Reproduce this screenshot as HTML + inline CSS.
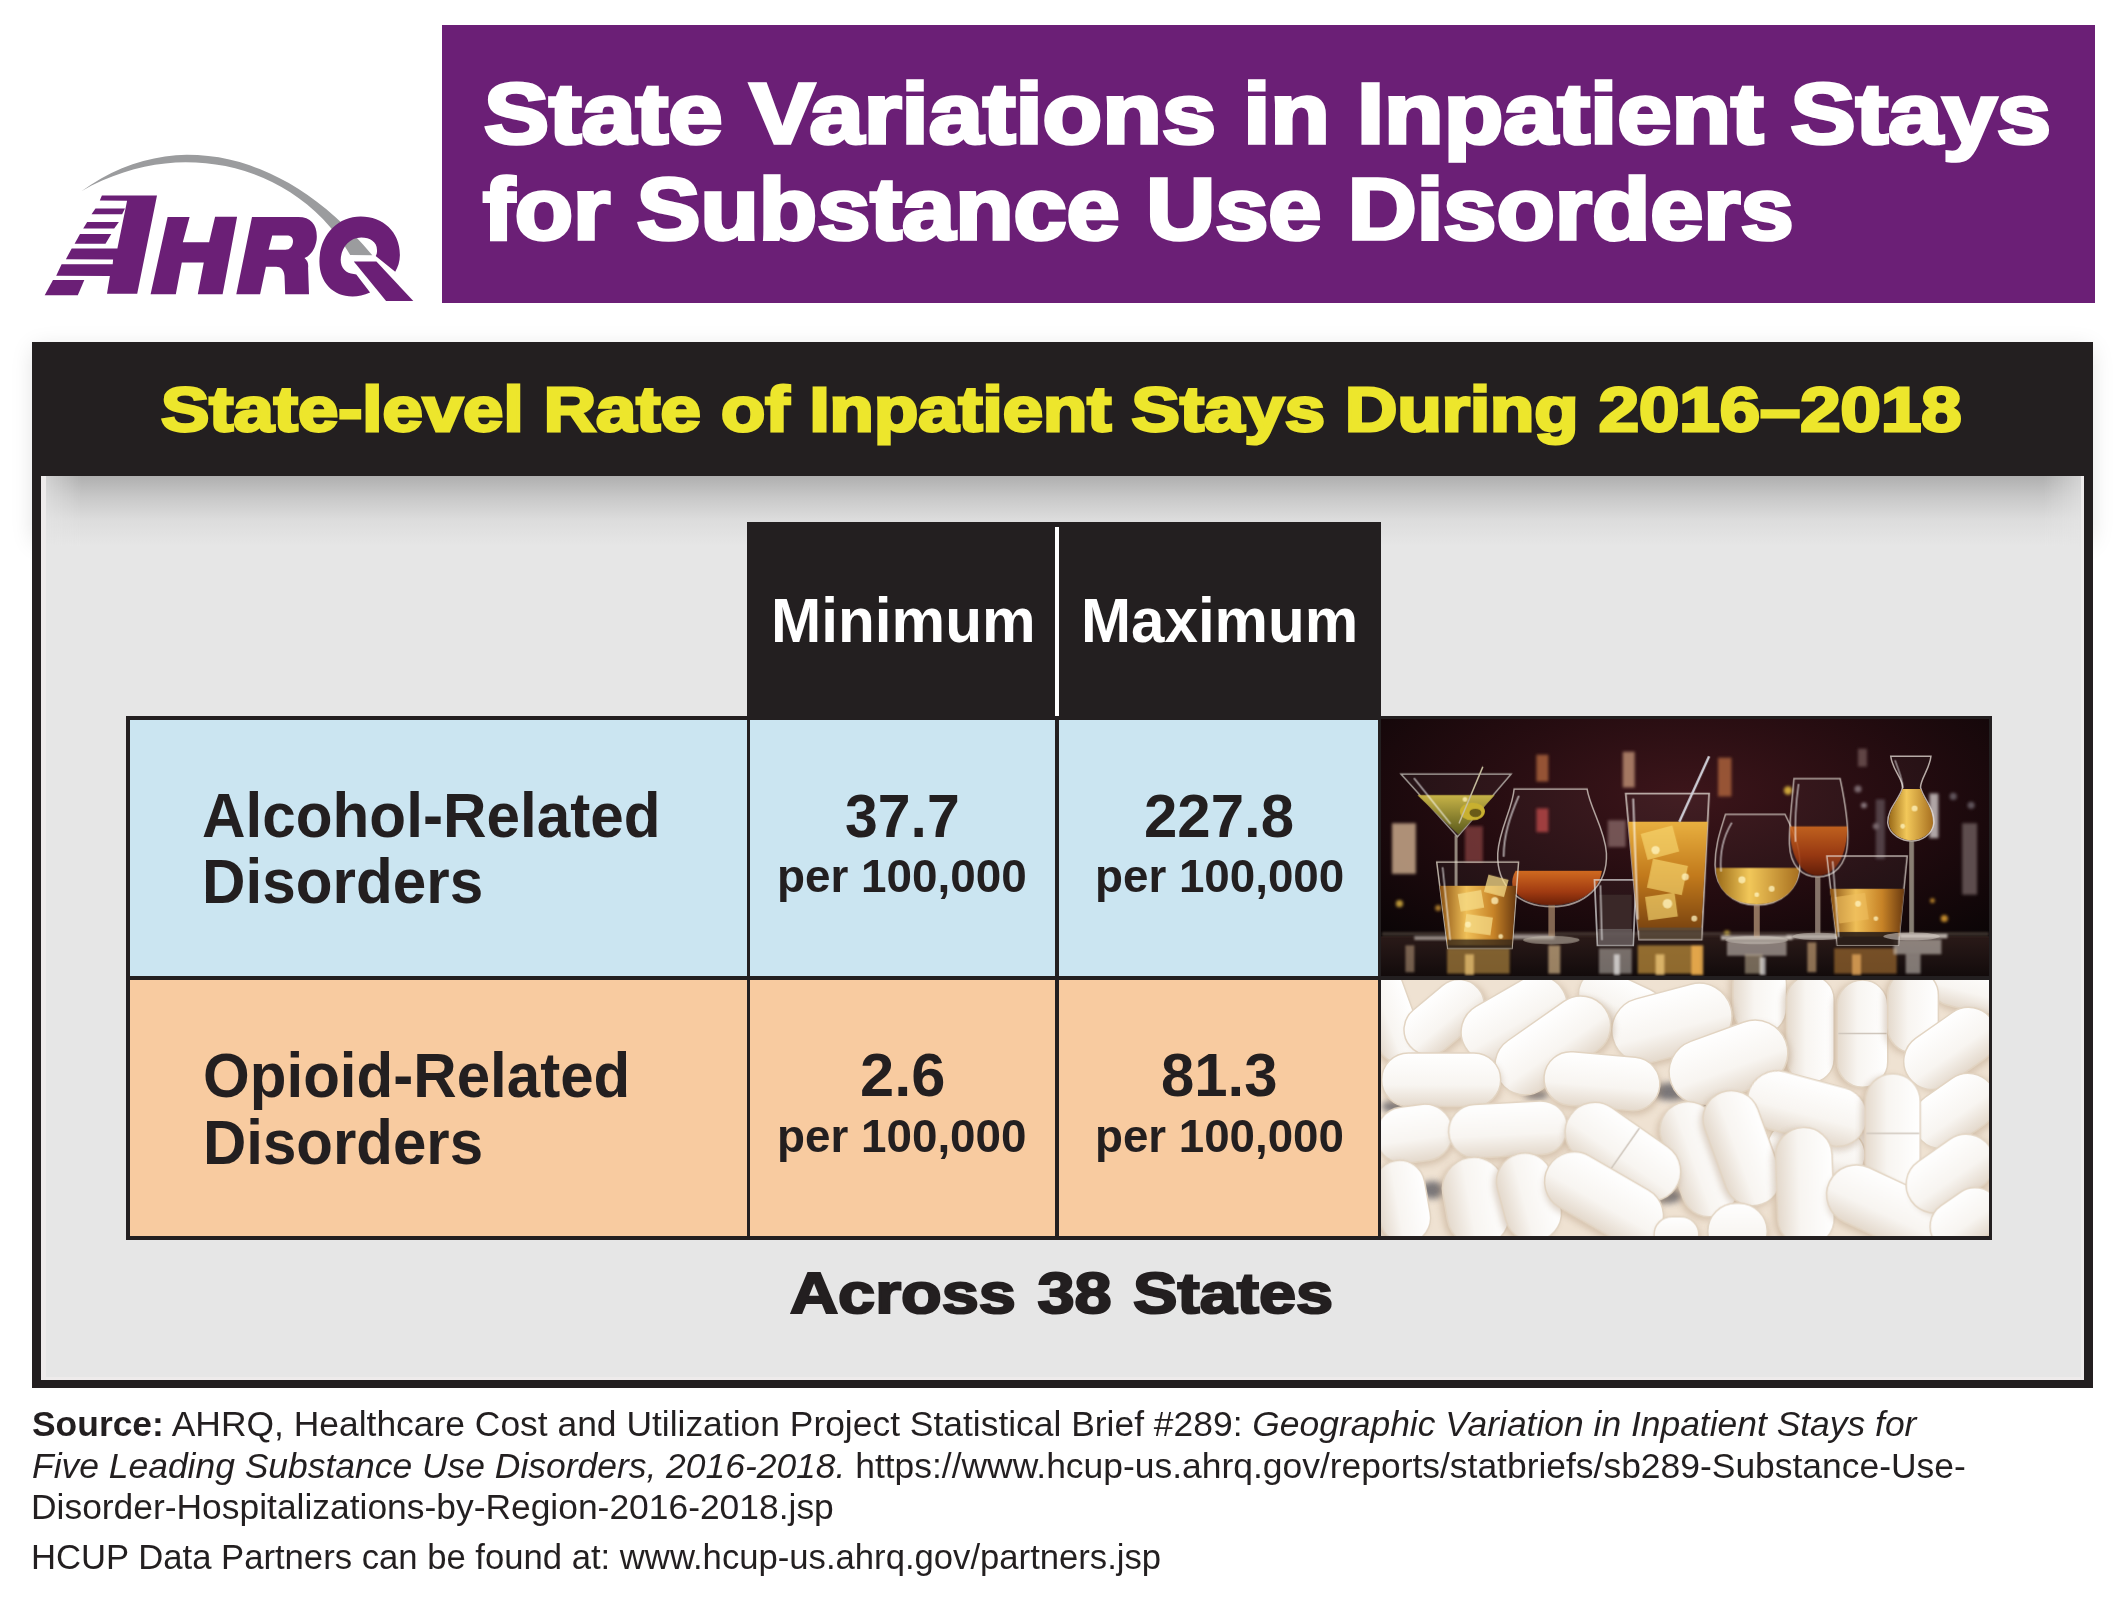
<!DOCTYPE html>
<html><head><meta charset="utf-8"><title>State Variations in Inpatient Stays for Substance Use Disorders</title>
<style>
html,body{margin:0;padding:0;}
body{width:2116px;height:1597px;overflow:hidden;background:#fff;position:relative;font-family:"Liberation Sans",sans-serif;}
div{box-sizing:border-box;}
</style></head><body>
<svg style="position:absolute;left:0;top:0" width="440" height="320" viewBox="0 0 440 320">
<path fill="#9b9c9e" d="M81.0,191.5 L90.9,184.7 L101.1,178.5 L111.4,173.1 L121.9,168.3 L132.6,164.3 L143.3,161.0 L154.1,158.4 L165.0,156.5 L175.9,155.3 L186.8,154.8 L197.6,155.0 L208.2,155.9 L218.8,157.3 L229.3,159.4 L239.6,162.1 L249.7,165.3 L259.7,169.0 L269.5,173.2 L279.2,177.9 L288.8,183.1 L298.2,188.8 L307.6,195.1 L316.8,201.8 L326.1,209.0 L335.3,216.9 L344.5,225.4 L353.7,234.5 L363.0,244.4 L372.3,255.2 L350.2,255.0 L344.0,245.1 L337.4,235.9 L330.3,227.2 L322.9,219.1 L315.1,211.5 L307.1,204.6 L298.8,198.2 L290.2,192.3 L281.4,187.0 L272.5,182.2 L263.4,178.0 L254.1,174.2 L244.7,171.0 L235.1,168.3 L225.4,166.1 L215.6,164.4 L205.8,163.2 L195.8,162.5 L185.7,162.3 L175.5,162.6 L165.3,163.5 L154.9,164.8 L144.5,166.8 L134.0,169.3 L123.5,172.4 L112.9,176.2 L102.2,180.5 L91.6,185.6 L80.9,191.4 Z"/>
<g fill="#6b1f76">
<path d="M101.9,195.4 L157,195.4 L137.2,293.7 L107,293.7 L109.9,276.1 L56.2,275.7 L61.6,264.2 L112.7,264.2 L113.1,259.5 L65.9,259.2 L71.7,248.4 L117.4,248.4 L127.1,200.8 L99.8,200.5 Z"/>
<path d="M95.5,208.4 L125,208.4 L122.1,214.3 L91.5,214.3 Z"/>
<path d="M87.2,222.1 L118.9,222.1 L114.2,228.6 L83.2,228.6 Z"/>
<path d="M80,234 L111.3,234 L105.5,243.7 L74.6,243.7 Z"/>
<path d="M53,280.1 L84.3,280.1 L77.8,295.2 L44.7,295.2 Z"/>
<path d="M167.6,217 L189.6,217 L182.8,242.2 L209.1,242.2 L215.1,216.7 L237.1,216.7 L222.6,294.3 L197.8,294.3 L203.8,262.4 L181.8,262.4 L175.8,294.3 L150.6,294.3 Z"/>
<path d="M252,217 L298.2,217 C312,217 318,226 316.6,240 C315,250 310,256 304.5,257.9 C308,261 308.5,264 308.1,268 L309,294.2 L285.2,294.2 L284.5,276 C284,270 281,266.8 276.2,266.8 L265.9,266.8 L260.1,294.2 L236.3,294.2 Z M272.2,235.4 L268.6,249.8 L285.2,249.8 C290,249.8 293,246 293,241 C293,237 290,235.4 287,235.4 Z" fill-rule="evenodd"/>
<path d="M360.7,216.6 C383,216.6 400,232 399.9,255.1 C399.8,262 398,267 395.2,271.7 L375.7,256 C377,254 377,252.6 377,250 C377,242 370,237.6 361.3,237.6 C348,237.6 340.7,250 340.7,260.1 C340.7,268 346,273.9 353.8,273.9 L356.3,274.5 L370.1,292.4 C364,295 358,296.4 352.6,296.4 C333,296.4 319.4,282 319.4,261.4 C319.4,236 337,216.6 360.7,216.6 Z"/>
<path d="M353.8,261.4 L376.4,261.4 L413.3,301.1 L386.1,301.1 Z"/>
</g>
</svg>

<div style="position:absolute;left:442px;top:25px;width:1653px;height:278px;background:#6b1f76"></div>
<!-- main box -->
<div style="position:absolute;left:36px;top:350px;width:2053px;height:190px;box-shadow:0 0 22px 2px rgba(0,0,0,0.13)"></div>
<div style="position:absolute;left:32px;top:342px;width:2061px;height:1046px;background:#231f20"></div>
<div style="position:absolute;left:41px;top:476px;width:2043px;height:904px;background:#e6e6e6;overflow:hidden;border-left:5px solid #eeebeb;border-right:3px solid #eeebeb;border-bottom:3px solid #eeebeb">
  <div style="position:absolute;left:-5px;top:0;width:2043px;height:70px;background:linear-gradient(to bottom,#afafaf 0%,#c8c8c8 30%,#dcdcdc 62%,#e6e6e6 100%);-webkit-mask-image:linear-gradient(to right,rgba(0,0,0,0.3) 0,#000 40px,#000 2003px,rgba(0,0,0,0.3) 2043px)"></div>
</div>
<!-- table header cells -->
<div style="position:absolute;left:747px;top:522px;width:634px;height:198px;background:#231f20"></div>
<div style="position:absolute;left:1055px;top:527px;width:4px;height:189px;background:#fff"></div>
<!-- table body -->
<div style="position:absolute;left:126px;top:716px;width:1866px;height:524px;background:#231f20"></div>
<div style="position:absolute;left:130px;top:720px;width:617px;height:256px;background:#cbe5f1"></div>
<div style="position:absolute;left:750px;top:720px;width:305px;height:256px;background:#cbe5f1"></div>
<div style="position:absolute;left:1059px;top:720px;width:319px;height:256px;background:#cbe5f1"></div>
<div style="position:absolute;left:130px;top:980px;width:617px;height:256px;background:#f8cba0"></div>
<div style="position:absolute;left:750px;top:980px;width:305px;height:256px;background:#f8cba0"></div>
<div style="position:absolute;left:1059px;top:980px;width:319px;height:256px;background:#f8cba0"></div>
<div style="position:absolute;left:1381px;top:719px;width:608px;height:257px;overflow:hidden"><svg width="608" height="257" viewBox="38 30 2042 863" preserveAspectRatio="none">
<defs>
<radialGradient id="abg" cx="0.5" cy="0.3" r="0.7">
<stop offset="0" stop-color="#3c151a"/><stop offset="0.55" stop-color="#220b0f"/><stop offset="1" stop-color="#0a0506"/>
</radialGradient>
<linearGradient id="bar" x1="0" y1="0" x2="0" y2="1">
<stop offset="0" stop-color="#2a1a18"/><stop offset="0.5" stop-color="#1a1010"/><stop offset="1" stop-color="#0a0606"/>
</linearGradient>
<linearGradient id="amb" x1="0" y1="0" x2="0" y2="1">
<stop offset="0" stop-color="#e9b040"/><stop offset="0.5" stop-color="#c27a1c"/><stop offset="1" stop-color="#7a4410"/>
</linearGradient>
<linearGradient id="amb2" x1="0" y1="0" x2="1" y2="0">
<stop offset="0" stop-color="#8a5214"/><stop offset="0.35" stop-color="#f0c058"/><stop offset="0.7" stop-color="#c88428"/><stop offset="1" stop-color="#6a3a10"/>
</linearGradient>
<linearGradient id="red" x1="0" y1="0" x2="0" y2="1">
<stop offset="0" stop-color="#d06a20"/><stop offset="0.6" stop-color="#a23c12"/><stop offset="1" stop-color="#6a2008"/>
</linearGradient>
<linearGradient id="grn" x1="0" y1="0" x2="0" y2="1">
<stop offset="0" stop-color="#c8b448"/><stop offset="1" stop-color="#5a5a1c"/>
</linearGradient>
<linearGradient id="gold" x1="0" y1="0" x2="1" y2="0">
<stop offset="0" stop-color="#9a6a18"/><stop offset="0.4" stop-color="#f2c85a"/><stop offset="1" stop-color="#a87020"/>
</linearGradient>
<linearGradient id="glassv" x1="0" y1="0" x2="1" y2="0">
<stop offset="0" stop-color="#ffffff" stop-opacity="0.35"/><stop offset="0.15" stop-color="#ffffff" stop-opacity="0.05"/><stop offset="0.85" stop-color="#ffffff" stop-opacity="0.05"/><stop offset="1" stop-color="#ffffff" stop-opacity="0.35"/>
</linearGradient>
<filter id="blur6"><feGaussianBlur stdDeviation="6"/></filter>
<filter id="blur3"><feGaussianBlur stdDeviation="3"/></filter>
</defs>
<rect x="0" y="0" width="2116" height="940" fill="url(#abg)"/>
<!-- bokeh / bottles -->
<g filter="url(#blur6)" opacity="0.85">
<rect x="75" y="380" width="80" height="170" fill="#c8a88a"/>
<rect x="560" y="150" width="40" height="90" fill="#a8603a"/>
<rect x="850" y="140" width="40" height="120" fill="#b88a70"/>
<rect x="1170" y="160" width="45" height="130" fill="#a8603a"/>
<rect x="800" y="370" width="60" height="90" fill="#806060"/>
<rect x="320" y="390" width="60" height="120" fill="#7a3a3a"/>
<rect x="560" y="330" width="40" height="80" fill="#b04040"/>
<rect x="1640" y="130" width="30" height="60" fill="#6a5050"/>
<rect x="1700" y="300" width="30" height="200" fill="#5a4a50"/>
<rect x="1880" y="280" width="30" height="150" fill="#c8c0c0"/>
<rect x="1990" y="380" width="50" height="240" fill="#6a5a5a"/>
<circle cx="1405" cy="270" r="14" fill="#e8c040"/>
<circle cx="1640" cy="265" r="12" fill="#8a7a80"/>
<circle cx="1660" cy="320" r="10" fill="#9a8a90"/>
<circle cx="1700" cy="390" r="10" fill="#8a7a80"/>
<circle cx="1960" cy="290" r="12" fill="#6a6068"/>
<circle cx="2020" cy="320" r="12" fill="#6a6068"/>
<circle cx="100" cy="650" r="12" fill="#d8b040"/>
<circle cx="230" cy="665" r="10" fill="#c89030"/>
<circle cx="1930" cy="700" r="12" fill="#e0a030"/>
<circle cx="1890" cy="640" r="8" fill="#e0a030"/>
<circle cx="1200" cy="750" r="10" fill="#e0c040"/>
</g>
<!-- bar surface -->
<rect x="0" y="760" width="2116" height="180" fill="url(#bar)"/>
<g filter="url(#blur3)">
<rect x="260" y="800" width="210" height="85" fill="#a07a38" opacity="0.75"/>
<rect x="900" y="790" width="210" height="95" fill="#b88a38" opacity="0.75"/>
<rect x="770" y="800" width="110" height="85" fill="#c0b8b0" opacity="0.55"/>
<rect x="1560" y="800" width="210" height="85" fill="#9a6a30" opacity="0.7"/>
<rect x="1200" y="775" width="200" height="50" fill="#d8d0c8" opacity="0.55"/>
<rect x="1260" y="820" width="60" height="65" fill="#d0c0a0" opacity="0.5"/>
<rect x="1760" y="770" width="160" height="50" fill="#e0d8d0" opacity="0.55"/>
<rect x="1080" y="790" width="40" height="100" fill="#f0b050" opacity="0.85"/>
<rect x="600" y="790" width="40" height="95" fill="#e0c090" opacity="0.65"/>
<rect x="1470" y="780" width="30" height="100" fill="#d8b080" opacity="0.6"/>
<rect x="1800" y="820" width="50" height="65" fill="#c8c0b8" opacity="0.6"/>
<rect x="120" y="790" width="30" height="90" fill="#c0a080" opacity="0.55"/>
</g>
<g filter="url(#blur3)">
<rect x="40" y="745" width="2040" height="14" fill="#6a5a50" opacity="0.5"/>
<rect x="150" y="760" width="120" height="12" fill="#e0d8d0" opacity="0.6"/>
<rect x="480" y="755" width="140" height="14" fill="#e8e0d8" opacity="0.6"/>
<rect x="1180" y="758" width="240" height="14" fill="#f0e8e0" opacity="0.7"/>
<rect x="1400" y="755" width="180" height="12" fill="#e8e0d8" opacity="0.6"/>
<rect x="1780" y="752" width="160" height="14" fill="#f0e8e0" opacity="0.7"/>
<rect x="320" y="820" width="30" height="70" fill="#f0c878" opacity="0.7"/>
<rect x="960" y="820" width="30" height="70" fill="#f8d080" opacity="0.7"/>
<rect x="1620" y="820" width="30" height="70" fill="#f0b060" opacity="0.7"/>
<rect x="1310" y="830" width="20" height="60" fill="#ffffff" opacity="0.6"/>
<rect x="820" y="820" width="20" height="70" fill="#ffffff" opacity="0.6"/>
</g>
<!-- martini -->
<path d="M105,215 L475,215 L295,425 Z" fill="#ffffff" fill-opacity="0.04" stroke="#d8d8d0" stroke-width="5" stroke-opacity="0.7"/>
<path d="M160,285 L420,285 L298,418 Z" fill="url(#grn)"/>
<ellipse cx="345" cy="340" rx="42" ry="30" fill="#c8b030"/>
<ellipse cx="355" cy="345" rx="20" ry="14" fill="#6a5a18"/>
<line x1="290" y1="420" x2="290" y2="770" stroke="#b8b0a0" stroke-width="10" stroke-opacity="0.75"/>
<line x1="380" y1="190" x2="300" y2="380" stroke="#c8c0a0" stroke-width="5"/>
<!-- snifter -->
<path d="M485,265 L730,265 C740,330 790,400 795,480 C800,590 720,660 610,660 C500,660 425,590 430,480 C435,400 480,330 485,265 Z" fill="#ffffff" fill-opacity="0.03" stroke="#e0d8d0" stroke-width="5" stroke-opacity="0.75"/>
<path d="M490,540 L780,540 C770,610 700,655 610,655 C520,655 450,610 490,540 Z" fill="url(#red)"/>
<rect x="600" y="655" width="22" height="105" fill="#b09070" opacity="0.7"/>
<ellipse cx="610" cy="772" rx="95" ry="14" fill="#c8c0b0" opacity="0.55"/>
<!-- rocks left -->
<path d="M225,510 L500,510 L478,800 L262,800 Z" fill="#ffffff" fill-opacity="0.04" stroke="#e8e0d0" stroke-width="5" stroke-opacity="0.75"/>
<path d="M235,590 L492,590 L478,790 L262,790 Z" fill="url(#amb2)"/>
<g fill="#f6dc88" opacity="0.75"><rect x="300" y="610" width="80" height="60" transform="rotate(-10 340 640)"/><rect x="390" y="560" width="70" height="60" transform="rotate(15 425 590)"/><rect x="320" y="690" width="90" height="60" transform="rotate(8 365 720)"/></g>
<rect x="262" y="770" width="216" height="30" fill="#3a2a1a" opacity="0.8"/>
<!-- shot -->
<path d="M755,570 L895,570 L885,790 L765,790 Z" fill="#ffffff" fill-opacity="0.04" stroke="#e0e0e0" stroke-width="6" stroke-opacity="0.7"/>
<rect x="770" y="620" width="110" height="120" fill="#3a2828"/>
<rect x="768" y="735" width="114" height="55" fill="#6a6060" opacity="0.8"/>
<!-- highball -->
<path d="M860,280 L1140,280 L1115,770 L905,770 Z" fill="#ffffff" fill-opacity="0.04" stroke="#e8e0d8" stroke-width="6" stroke-opacity="0.75"/>
<path d="M868,375 L1135,375 L1113,740 L903,740 Z" fill="url(#amb)"/>
<g fill="#f8d870" opacity="0.65"><rect x="920" y="400" width="110" height="90" transform="rotate(-15 975 445)"/><rect x="940" y="510" width="120" height="100" transform="rotate(12 1000 560)"/><rect x="930" y="620" width="100" height="80" transform="rotate(-8 980 660)"/></g>
<line x1="1140" y1="155" x2="1040" y2="375" stroke="#d0d0d8" stroke-width="8"/>
<rect x="905" y="730" width="210" height="40" fill="#5a4a3a" opacity="0.8"/>
<!-- balloon -->
<path d="M1195,350 L1395,350 C1420,400 1445,450 1445,520 C1445,600 1380,655 1300,655 C1220,655 1160,600 1160,520 C1160,450 1180,400 1195,350 Z" fill="#ffffff" fill-opacity="0.03" stroke="#e0d8d0" stroke-width="5" stroke-opacity="0.75"/>
<path d="M1163,530 L1442,530 C1440,610 1380,652 1300,652 C1220,652 1165,610 1163,530 Z" fill="url(#gold)"/>
<rect x="1290" y="655" width="20" height="110" fill="#c0a080" opacity="0.7"/>
<ellipse cx="1300" cy="772" rx="105" ry="14" fill="#d0c8c0" opacity="0.55"/>
<!-- tulip wine -->
<path d="M1425,230 L1580,230 C1595,300 1610,380 1605,450 C1600,520 1560,560 1505,560 C1450,560 1412,520 1410,450 C1408,380 1420,300 1425,230 Z" fill="#ffffff" fill-opacity="0.03" stroke="#e0d8d0" stroke-width="5" stroke-opacity="0.75"/>
<path d="M1412,390 L1604,390 C1605,480 1570,555 1505,555 C1445,555 1410,480 1412,390 Z" fill="url(#red)" opacity="0.9"/>
<rect x="1496" y="560" width="18" height="190" fill="#b0a090" opacity="0.7"/>
<ellipse cx="1505" cy="760" rx="85" ry="12" fill="#d0c8c0" opacity="0.55"/>
<!-- rocks right -->
<path d="M1535,490 L1805,490 L1775,790 L1570,790 Z" fill="#ffffff" fill-opacity="0.04" stroke="#e8e0d8" stroke-width="5" stroke-opacity="0.75"/>
<path d="M1545,600 L1795,600 L1778,760 L1568,760 Z" fill="url(#amb2)"/>
<g fill="#f0c060" opacity="0.6"><rect x="1570" y="620" width="100" height="90" transform="rotate(-8 1620 665)"/></g>
<rect x="1570" y="745" width="205" height="45" fill="#2a1e18" opacity="0.9"/>
<!-- cordial -->
<path d="M1750,155 L1885,155 C1880,200 1850,230 1850,260 C1860,300 1898,330 1895,380 C1890,420 1850,440 1820,440 C1790,440 1745,420 1740,380 C1738,330 1780,300 1790,260 C1790,230 1755,200 1750,155 Z" fill="#ffffff" fill-opacity="0.03" stroke="#e8e0d8" stroke-width="5" stroke-opacity="0.75"/>
<path d="M1790,265 L1850,265 C1860,300 1893,330 1892,380 C1888,418 1850,437 1820,437 C1790,437 1748,418 1744,380 C1742,330 1780,300 1790,265 Z" fill="url(#gold)"/>
<rect x="1812" y="440" width="16" height="310" fill="#b8b0a0" opacity="0.7"/>
<ellipse cx="1820" cy="760" rx="95" ry="13" fill="#d8d0c8" opacity="0.55"/>
<g stroke="#ffffff" stroke-linecap="round" fill="none" opacity="0.55">
<path d="M150,230 L270,380" stroke-width="6"/>
<path d="M500,290 C470,360 450,420 450,490" stroke-width="7"/>
<path d="M245,530 L270,770" stroke-width="6"/>
<path d="M885,300 L900,700" stroke-width="8"/>
<path d="M1215,380 C1185,430 1175,480 1180,540" stroke-width="6"/>
<path d="M1440,250 C1430,320 1428,380 1430,440" stroke-width="6"/>
<path d="M1555,510 L1575,760" stroke-width="6"/>
<path d="M1765,170 C1775,200 1790,230 1790,260" stroke-width="5"/>
<path d="M775,590 L780,770" stroke-width="6"/>
</g>
<g fill="#fff4c0" opacity="0.75">
<circle cx="960" cy="470" r="14"/><circle cx="1060" cy="560" r="12"/><circle cx="1000" cy="650" r="16"/><circle cx="1090" cy="700" r="10"/>
<circle cx="420" cy="640" r="12"/><circle cx="330" cy="720" r="10"/><circle cx="440" cy="760" r="8"/>
<circle cx="1250" cy="570" r="12"/><circle cx="1350" cy="600" r="10"/><circle cx="1300" cy="620" r="8"/>
<circle cx="1640" cy="650" r="10"/><circle cx="1700" cy="700" r="8"/>
<circle cx="1830" cy="330" r="10"/><circle cx="1790" cy="390" r="8"/>
<circle cx="320" cy="300" r="8"/>
</g>
</svg></div>
<div style="position:absolute;left:1381px;top:980px;width:608px;height:256px;overflow:hidden"><svg width="608" height="256" viewBox="38 35 2042 860" preserveAspectRatio="none">
<defs>
<linearGradient id="pg" x1="0" y1="0" x2="0" y2="1"><stop offset="0" stop-color="#ffffff"/><stop offset="0.6" stop-color="#f8f5f1"/><stop offset="1" stop-color="#e4d9cc"/></linearGradient>
<filter id="psh" x="-20%" y="-20%" width="140%" height="140%"><feGaussianBlur stdDeviation="10"/></filter>
</defs>
<rect x="0" y="0" width="2116" height="940" fill="#efe2d2"/>
<g fill="#4a4a52" filter="url(#psh)" opacity="0.7"><ellipse cx="1010" cy="410" rx="60" ry="30"/><ellipse cx="1110" cy="460" rx="40" ry="25"/><ellipse cx="210" cy="740" rx="40" ry="30"/><ellipse cx="90" cy="460" rx="50" ry="20"/><ellipse cx="1600" cy="700" rx="50" ry="20"/><ellipse cx="560" cy="420" rx="40" ry="15"/><ellipse cx="1000" cy="760" rx="50" ry="25"/></g>
<g transform="translate(70,150) rotate(70)"><rect x="-164.0" y="-61.0" width="340" height="150" rx="75.0" fill="#b09478" opacity="0.4" filter="url(#psh)"/><rect x="-170.0" y="-75.0" width="340" height="150" rx="75.0" fill="url(#pg)" stroke="#e2d4c2" stroke-width="5"/></g>
<g transform="translate(2010,60) rotate(15)"><rect x="-124.0" y="-61.0" width="260" height="150" rx="75.0" fill="#b09478" opacity="0.4" filter="url(#psh)"/><rect x="-130.0" y="-75.0" width="260" height="150" rx="75.0" fill="url(#pg)" stroke="#e2d4c2" stroke-width="5"/></g>
<g transform="translate(1620,560) rotate(5)"><rect x="-144.0" y="-71.0" width="300" height="170" rx="85.0" fill="#b09478" opacity="0.4" filter="url(#psh)"/><rect x="-150.0" y="-85.0" width="300" height="170" rx="85.0" fill="url(#pg)" stroke="#e2d4c2" stroke-width="5"/></g>
<g transform="translate(1500,610) rotate(10)"><rect x="-159.0" y="-76.0" width="330" height="180" rx="90.0" fill="#b09478" opacity="0.4" filter="url(#psh)"/><rect x="-165.0" y="-90.0" width="330" height="180" rx="90.0" fill="url(#pg)" stroke="#e2d4c2" stroke-width="5"/><line x1="0" y1="-86.0" x2="0" y2="86.0" stroke="#cfc6bc" stroke-width="5"/></g>
<g transform="translate(1310,90) rotate(90)"><rect x="-124.0" y="-76.0" width="260" height="180" rx="90.0" fill="#b09478" opacity="0.4" filter="url(#psh)"/><rect x="-130.0" y="-90.0" width="260" height="180" rx="90.0" fill="url(#pg)" stroke="#e2d4c2" stroke-width="5"/></g>
<g transform="translate(845,110) rotate(25)"><rect x="-144.0" y="-66.0" width="300" height="160" rx="80.0" fill="#b09478" opacity="0.4" filter="url(#psh)"/><rect x="-150.0" y="-80.0" width="300" height="160" rx="80.0" fill="url(#pg)" stroke="#e2d4c2" stroke-width="5"/></g>
<g transform="translate(250,160) rotate(-40)"><rect x="-144.0" y="-71.0" width="300" height="170" rx="85.0" fill="#b09478" opacity="0.4" filter="url(#psh)"/><rect x="-150.0" y="-85.0" width="300" height="170" rx="85.0" fill="url(#pg)" stroke="#e2d4c2" stroke-width="5"/></g>
<g transform="translate(1015,180) rotate(-15)"><rect x="-199.0" y="-96.0" width="410" height="220" rx="110.0" fill="#b09478" opacity="0.4" filter="url(#psh)"/><rect x="-205.0" y="-110.0" width="410" height="220" rx="110.0" fill="url(#pg)" stroke="#e2d4c2" stroke-width="5"/></g>
<g transform="translate(485,165) rotate(-30)"><rect x="-184.0" y="-86.0" width="380" height="200" rx="100.0" fill="#b09478" opacity="0.4" filter="url(#psh)"/><rect x="-190.0" y="-100.0" width="380" height="200" rx="100.0" fill="url(#pg)" stroke="#e2d4c2" stroke-width="5"/></g>
<g transform="translate(615,255) rotate(-35)"><rect x="-209.0" y="-86.0" width="430" height="200" rx="100.0" fill="#b09478" opacity="0.4" filter="url(#psh)"/><rect x="-215.0" y="-100.0" width="430" height="200" rx="100.0" fill="url(#pg)" stroke="#e2d4c2" stroke-width="5"/></g>
<g transform="translate(240,370) rotate(0)"><rect x="-194.0" y="-76.0" width="400" height="180" rx="90.0" fill="#b09478" opacity="0.4" filter="url(#psh)"/><rect x="-200.0" y="-90.0" width="400" height="180" rx="90.0" fill="url(#pg)" stroke="#e2d4c2" stroke-width="5"/></g>
<g transform="translate(780,375) rotate(5)"><rect x="-189.0" y="-76.0" width="390" height="180" rx="90.0" fill="#b09478" opacity="0.4" filter="url(#psh)"/><rect x="-195.0" y="-90.0" width="390" height="180" rx="90.0" fill="url(#pg)" stroke="#e2d4c2" stroke-width="5"/></g>
<g transform="translate(1480,200) rotate(90)"><rect x="-174.0" y="-66.0" width="360" height="160" rx="80.0" fill="#b09478" opacity="0.4" filter="url(#psh)"/><rect x="-180.0" y="-80.0" width="360" height="160" rx="80.0" fill="url(#pg)" stroke="#e2d4c2" stroke-width="5"/></g>
<g transform="translate(1655,215) rotate(90)"><rect x="-174.0" y="-71.0" width="360" height="170" rx="85.0" fill="#b09478" opacity="0.4" filter="url(#psh)"/><rect x="-180.0" y="-85.0" width="360" height="170" rx="85.0" fill="url(#pg)" stroke="#e2d4c2" stroke-width="5"/><line x1="0" y1="-81.0" x2="0" y2="81.0" stroke="#cfc6bc" stroke-width="5"/></g>
<g transform="translate(1825,140) rotate(90)"><rect x="-134.0" y="-71.0" width="280" height="170" rx="85.0" fill="#b09478" opacity="0.4" filter="url(#psh)"/><rect x="-140.0" y="-85.0" width="280" height="170" rx="85.0" fill="url(#pg)" stroke="#e2d4c2" stroke-width="5"/></g>
<g transform="translate(1950,265) rotate(-35)"><rect x="-164.0" y="-81.0" width="340" height="190" rx="95.0" fill="#b09478" opacity="0.4" filter="url(#psh)"/><rect x="-170.0" y="-95.0" width="340" height="190" rx="95.0" fill="url(#pg)" stroke="#e2d4c2" stroke-width="5"/></g>
<g transform="translate(1205,312) rotate(-20)"><rect x="-199.0" y="-96.0" width="410" height="220" rx="110.0" fill="#b09478" opacity="0.4" filter="url(#psh)"/><rect x="-205.0" y="-110.0" width="410" height="220" rx="110.0" fill="url(#pg)" stroke="#e2d4c2" stroke-width="5"/></g>
<g transform="translate(150,552) rotate(-8)"><rect x="-124.0" y="-81.0" width="260" height="190" rx="95.0" fill="#b09478" opacity="0.4" filter="url(#psh)"/><rect x="-130.0" y="-95.0" width="260" height="190" rx="95.0" fill="url(#pg)" stroke="#e2d4c2" stroke-width="5"/></g>
<g transform="translate(465,537) rotate(-3)"><rect x="-194.0" y="-76.0" width="400" height="180" rx="90.0" fill="#b09478" opacity="0.4" filter="url(#psh)"/><rect x="-200.0" y="-90.0" width="400" height="180" rx="90.0" fill="url(#pg)" stroke="#e2d4c2" stroke-width="5"/></g>
<g transform="translate(1470,467) rotate(15)"><rect x="-199.0" y="-86.0" width="410" height="200" rx="100.0" fill="#b09478" opacity="0.4" filter="url(#psh)"/><rect x="-205.0" y="-100.0" width="410" height="200" rx="100.0" fill="url(#pg)" stroke="#e2d4c2" stroke-width="5"/></g>
<g transform="translate(1965,475) rotate(-35)"><rect x="-144.0" y="-81.0" width="300" height="190" rx="95.0" fill="#b09478" opacity="0.4" filter="url(#psh)"/><rect x="-150.0" y="-95.0" width="300" height="190" rx="95.0" fill="url(#pg)" stroke="#e2d4c2" stroke-width="5"/></g>
<g transform="translate(1757,550) rotate(90)"><rect x="-194.0" y="-78.5" width="400" height="185" rx="92.5" fill="#b09478" opacity="0.4" filter="url(#psh)"/><rect x="-200.0" y="-92.5" width="400" height="185" rx="92.5" fill="url(#pg)" stroke="#e2d4c2" stroke-width="5"/><line x1="0" y1="-88.5" x2="0" y2="88.5" stroke="#cfc6bc" stroke-width="5"/></g>
<g transform="translate(1105,637) rotate(70)"><rect x="-194.0" y="-81.0" width="400" height="190" rx="95.0" fill="#b09478" opacity="0.4" filter="url(#psh)"/><rect x="-200.0" y="-95.0" width="400" height="190" rx="95.0" fill="url(#pg)" stroke="#e2d4c2" stroke-width="5"/></g>
<g transform="translate(1250,600) rotate(70)"><rect x="-194.0" y="-81.0" width="400" height="190" rx="95.0" fill="#b09478" opacity="0.4" filter="url(#psh)"/><rect x="-200.0" y="-95.0" width="400" height="190" rx="95.0" fill="url(#pg)" stroke="#e2d4c2" stroke-width="5"/></g>
<g transform="translate(850,612) rotate(35)"><rect x="-209.0" y="-86.0" width="430" height="200" rx="100.0" fill="#b09478" opacity="0.4" filter="url(#psh)"/><rect x="-215.0" y="-100.0" width="430" height="200" rx="100.0" fill="url(#pg)" stroke="#e2d4c2" stroke-width="5"/><line x1="0" y1="-96.0" x2="0" y2="96.0" stroke="#cfc6bc" stroke-width="5"/></g>
<g transform="translate(110,780) rotate(80)"><rect x="-134.0" y="-71.0" width="280" height="170" rx="85.0" fill="#b09478" opacity="0.4" filter="url(#psh)"/><rect x="-140.0" y="-85.0" width="280" height="170" rx="85.0" fill="url(#pg)" stroke="#e2d4c2" stroke-width="5"/></g>
<g transform="translate(357,780) rotate(80)"><rect x="-144.0" y="-91.0" width="300" height="210" rx="105.0" fill="#b09478" opacity="0.4" filter="url(#psh)"/><rect x="-150.0" y="-105.0" width="300" height="210" rx="105.0" fill="url(#pg)" stroke="#e2d4c2" stroke-width="5"/></g>
<g transform="translate(535,765) rotate(75)"><rect x="-144.0" y="-81.0" width="300" height="190" rx="95.0" fill="#b09478" opacity="0.4" filter="url(#psh)"/><rect x="-150.0" y="-95.0" width="300" height="190" rx="95.0" fill="url(#pg)" stroke="#e2d4c2" stroke-width="5"/></g>
<g transform="translate(787,770) rotate(30)"><rect x="-209.0" y="-86.0" width="430" height="200" rx="100.0" fill="#b09478" opacity="0.4" filter="url(#psh)"/><rect x="-215.0" y="-100.0" width="430" height="200" rx="100.0" fill="url(#pg)" stroke="#e2d4c2" stroke-width="5"/></g>
<g transform="translate(1462,730) rotate(88)"><rect x="-194.0" y="-81.0" width="400" height="190" rx="95.0" fill="#b09478" opacity="0.4" filter="url(#psh)"/><rect x="-200.0" y="-95.0" width="400" height="190" rx="95.0" fill="url(#pg)" stroke="#e2d4c2" stroke-width="5"/></g>
<g transform="translate(1730,800) rotate(25)"><rect x="-199.0" y="-86.0" width="410" height="200" rx="100.0" fill="#b09478" opacity="0.4" filter="url(#psh)"/><rect x="-205.0" y="-100.0" width="410" height="200" rx="100.0" fill="url(#pg)" stroke="#e2d4c2" stroke-width="5"/></g>
<g transform="translate(1950,685) rotate(-35)"><rect x="-154.0" y="-81.0" width="320" height="190" rx="95.0" fill="#b09478" opacity="0.4" filter="url(#psh)"/><rect x="-160.0" y="-95.0" width="320" height="190" rx="95.0" fill="url(#pg)" stroke="#e2d4c2" stroke-width="5"/></g>
<g transform="translate(1235,880) rotate(0)"><rect x="-94.0" y="-81.0" width="200" height="190" rx="95.0" fill="#b09478" opacity="0.4" filter="url(#psh)"/><rect x="-100.0" y="-95.0" width="200" height="190" rx="95.0" fill="url(#pg)" stroke="#e2d4c2" stroke-width="5"/></g>
<g transform="translate(2000,840) rotate(-35)"><rect x="-119.0" y="-71.0" width="250" height="170" rx="85.0" fill="#b09478" opacity="0.4" filter="url(#psh)"/><rect x="-125.0" y="-85.0" width="250" height="170" rx="85.0" fill="url(#pg)" stroke="#e2d4c2" stroke-width="5"/></g>
<g transform="translate(1030,890) rotate(0)"><rect x="-69.0" y="-46.0" width="150" height="120" rx="60.0" fill="#b09478" opacity="0.4" filter="url(#psh)"/><rect x="-75.0" y="-60.0" width="150" height="120" rx="60.0" fill="url(#pg)" stroke="#e2d4c2" stroke-width="5"/></g>
</svg></div>
<div style="position:absolute;left:484.00px;top:70.33px;font-size:86.09px;line-height:86.09px;font-weight:bold;white-space:nowrap;transform:scaleX(1.1335);transform-origin:0 0;-webkit-text-stroke:3.6px currentColor;color:#fff">State Variations in Inpatient Stays</div>
<div style="position:absolute;left:483.00px;top:165.90px;font-size:86.23px;line-height:86.23px;font-weight:bold;white-space:nowrap;transform:scaleX(1.1074);transform-origin:0 0;-webkit-text-stroke:3.6px currentColor;color:#fff">for Substance Use Disorders</div>
<div style="position:absolute;left:161.00px;top:377.67px;font-size:62.46px;line-height:62.46px;font-weight:bold;white-space:nowrap;transform:scaleX(1.1605);transform-origin:0 0;-webkit-text-stroke:2.9px currentColor;color:#ede62c">State-level Rate of Inpatient Stays During 2016–2018</div>
<div style="position:absolute;left:770.50px;top:590.15px;font-size:62.32px;line-height:62.32px;font-weight:bold;white-space:nowrap;transform:scaleX(0.9677);transform-origin:0 0;color:#fff">Minimum</div>
<div style="position:absolute;left:1080.50px;top:590.15px;font-size:62.32px;line-height:62.32px;font-weight:bold;white-space:nowrap;transform:scaleX(0.9644);transform-origin:0 0;color:#fff">Maximum</div>
<div style="position:absolute;left:202.00px;top:783.71px;font-size:63.19px;line-height:63.19px;font-weight:bold;white-space:nowrap;transform:scaleX(0.9534);transform-origin:0 0;color:#231f20">Alcohol-Related</div>
<div style="position:absolute;left:202.00px;top:850.89px;font-size:62.03px;line-height:62.03px;font-weight:bold;white-space:nowrap;transform:scaleX(0.9710);transform-origin:0 0;color:#231f20">Disorders</div>
<div style="position:absolute;left:203.00px;top:1044.32px;font-size:62.46px;line-height:62.46px;font-weight:bold;white-space:nowrap;transform:scaleX(0.9621);transform-origin:0 0;color:#231f20">Opioid-Related</div>
<div style="position:absolute;left:202.50px;top:1111.55px;font-size:62.32px;line-height:62.32px;font-weight:bold;white-space:nowrap;transform:scaleX(0.9628);transform-origin:0 0;color:#231f20">Disorders</div>
<div style="position:absolute;left:845.00px;top:785.28px;font-size:61.57px;line-height:61.57px;font-weight:bold;white-space:nowrap;transform:scaleX(0.9570);transform-origin:0 0;color:#231f20">37.7</div>
<div style="position:absolute;left:777.00px;top:852.94px;font-size:46.86px;line-height:46.86px;font-weight:bold;white-space:nowrap;transform:scaleX(0.9786);transform-origin:0 0;color:#231f20">per 100,000</div>
<div style="position:absolute;left:1143.50px;top:785.28px;font-size:61.57px;line-height:61.57px;font-weight:bold;white-space:nowrap;transform:scaleX(0.9735);transform-origin:0 0;color:#231f20">227.8</div>
<div style="position:absolute;left:1094.50px;top:852.94px;font-size:46.86px;line-height:46.86px;font-weight:bold;white-space:nowrap;transform:scaleX(0.9762);transform-origin:0 0;color:#231f20">per 100,000</div>
<div style="position:absolute;left:860.00px;top:1045.34px;font-size:61.14px;line-height:61.14px;font-weight:bold;white-space:nowrap;transform:scaleX(1.0051);transform-origin:0 0;color:#231f20">2.6</div>
<div style="position:absolute;left:777.00px;top:1113.00px;font-size:46.43px;line-height:46.43px;font-weight:bold;white-space:nowrap;transform:scaleX(0.9864);transform-origin:0 0;color:#231f20">per 100,000</div>
<div style="position:absolute;left:1161.00px;top:1045.34px;font-size:61.14px;line-height:61.14px;font-weight:bold;white-space:nowrap;transform:scaleX(0.9795);transform-origin:0 0;color:#231f20">81.3</div>
<div style="position:absolute;left:1094.50px;top:1113.00px;font-size:46.43px;line-height:46.43px;font-weight:bold;white-space:nowrap;transform:scaleX(0.9839);transform-origin:0 0;color:#231f20">per 100,000</div>
<div style="position:absolute;left:790.00px;top:1264.80px;font-size:57.54px;line-height:57.54px;font-weight:bold;white-space:nowrap;transform:scaleX(1.1581);transform-origin:0 0;word-spacing:2.6px;-webkit-text-stroke:2.2px currentColor;color:#231f20">Across 38 States</div>
<div style="position:absolute;left:31.50px;top:1406.21px;font-size:35.07px;line-height:35.07px;font-weight:normal;white-space:nowrap;transform:scaleX(1.0100);transform-origin:0 0;color:#231f20"><b>Source:</b> AHRQ, Healthcare Cost and Utilization Project Statistical Brief #289: <i>Geographic Variation in Inpatient Stays for</i></div>
<div style="position:absolute;left:31.50px;top:1447.81px;font-size:35.07px;line-height:35.07px;font-weight:normal;white-space:nowrap;transform:scaleX(1.0104);transform-origin:0 0;color:#231f20"><i>Five Leading Substance Use Disorders, 2016-2018.</i> https://www.hcup-us.ahrq.gov/reports/statbriefs/sb289-Substance-Use-</div>
<div style="position:absolute;left:30.50px;top:1489.41px;font-size:35.07px;line-height:35.07px;font-weight:normal;white-space:nowrap;transform:scaleX(1.0096);transform-origin:0 0;color:#231f20">Disorder-Hospitalizations-by-Region-2016-2018.jsp</div>
<div style="position:absolute;left:30.50px;top:1539.11px;font-size:35.07px;line-height:35.07px;font-weight:normal;white-space:nowrap;transform:scaleX(0.9884);transform-origin:0 0;color:#231f20">HCUP Data Partners can be found at: www.hcup-us.ahrq.gov/partners.jsp</div>
</body></html>
